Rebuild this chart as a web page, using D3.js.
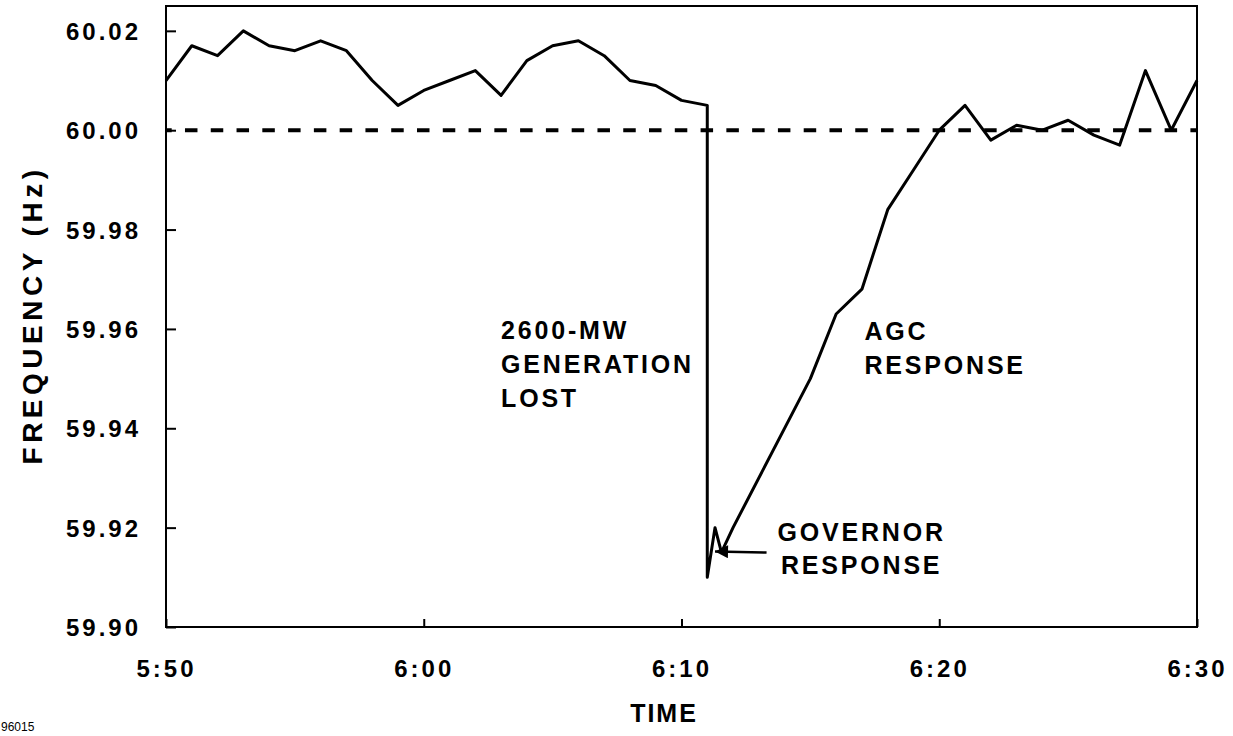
<!DOCTYPE html>
<html>
<head>
<meta charset="utf-8">
<script src="https://cdn.jsdelivr.net/npm/d3@7"></script>
<style>
  html, body { margin: 0; padding: 0; background: #fff; }
  svg { display: block; }
  text { font-family: "Liberation Sans", Arial, Helvetica, sans-serif; }
</style>
</head>
<body>
<svg id="chart" width="1233" height="736"></svg>
<script>
// ---- data (minutes after 5:50) ----
const minutes = [0,1,2,3,4,5,6,7,8,9,10,11,12,13,14,15,16,17,18,19,20,21,21,21.3,21.55,22,25,26,27,28,29,30,31,32,33,34,35,36,37,38,39,40];
const frequency = [60.010,60.017,60.015,60.020,60.017,60.016,60.018,60.016,60.010,60.005,
                   60.008,60.010,60.012,60.007,60.014,60.017,60.018,60.015,60.010,60.009,
                   60.006,60.005,59.910,59.920,59.915,59.920,59.950,59.963,59.968,59.984,
                   59.992,60.000,60.005,59.998,60.001,60.000,60.002,59.999,59.997,60.012,
                   60.000,60.010];
const nominal = 60.00;
const xTickValues = [0,10,20,30,40];
const xTickLabels = ["5:50","6:00","6:10","6:20","6:30"];
const yTickValues = [59.90,59.92,59.94,59.96,59.98,60.00,60.02];
const annotations = [
  {lines:["2600-MW","GENERATION","LOST"], t:13.0, f:59.9579, anchor:"start"},
  {lines:["AGC","RESPONSE"], t:27.1, f:59.9578, anchor:"start"},
  {lines:["GOVERNOR","RESPONSE"], t:26.99, f:59.9174, anchor:"middle"}
];
const arrow = {from:[23.3, 59.9150], to:[21.3, 59.9152]};

// ---- layout ----
const svg = d3.select("#chart");
const L = 166, R = 1197, T = 6, B = 627;
const x = d3.scaleLinear().domain([0, 40]).range([L, R]);
const y = d3.scaleLinear().domain([59.90, 60.025]).range([B, T]);

svg.append("rect").attr("width",1233).attr("height",736).attr("fill","#fff");

// y axis
const yAxis = svg.append("g").attr("transform",`translate(${L},0)`)
  .call(d3.axisLeft(y).tickValues(yTickValues).tickFormat(d3.format(".2f"))
        .tickSizeInner(-10).tickSizeOuter(0).tickPadding(25));
yAxis.select(".domain").remove();
yAxis.selectAll(".tick line").attr("stroke","#000").attr("stroke-width",2);
yAxis.selectAll(".tick text").attr("font-size",24).attr("font-weight","bold")
  .attr("letter-spacing","3px").attr("fill","#000").attr("dy","0.36em");

// x axis
const xAxis = svg.append("g").attr("transform",`translate(0,${B})`)
  .call(d3.axisBottom(x).tickValues(xTickValues).tickFormat((d,i)=>xTickLabels[i])
        .tickSizeInner(-8).tickSizeOuter(0).tickPadding(33));
xAxis.select(".domain").remove();
xAxis.selectAll(".tick line").attr("stroke","#000").attr("stroke-width",2);
xAxis.selectAll(".tick text").attr("font-size",24).attr("font-weight","bold")
  .attr("letter-spacing","3px").attr("fill","#000");

// frame
svg.append("rect").attr("x",L).attr("y",T).attr("width",R-L).attr("height",B-T)
  .attr("fill","none").attr("stroke","#000").attr("stroke-width",2);

// nominal dashed line
svg.append("line").attr("x1",x(0)).attr("x2",x(40)).attr("y1",y(nominal)).attr("y2",y(nominal))
  .attr("stroke","#000").attr("stroke-width",4)
  .attr("stroke-dasharray","12.5 13.28").attr("stroke-dashoffset",6.8);

// frequency line
const line = d3.line().x((d,i)=>x(minutes[i])).y(d=>y(d));
svg.append("path").datum(frequency).attr("d",line)
  .attr("fill","none").attr("stroke","#000").attr("stroke-width",3)
  .attr("stroke-linejoin","round");

// arrow
svg.append("defs").append("marker").attr("id","ah").attr("viewBox","0 0 10 10")
  .attr("refX",10).attr("refY",5).attr("markerWidth",16).attr("markerHeight",13)
  .attr("markerUnits","userSpaceOnUse").attr("orient","auto")
  .append("path").attr("d","M0,0 L10,5 L0,10 Z").attr("fill","#000");
svg.append("line")
  .attr("x1",x(arrow.from[0])).attr("y1",y(arrow.from[1]))
  .attr("x2",x(arrow.to[0])).attr("y2",y(arrow.to[1]))
  .attr("stroke","#000").attr("stroke-width",2.5).attr("marker-end","url(#ah)");

// annotations
annotations.forEach(a=>{
  const t = svg.append("text").attr("x",x(a.t)).attr("y",y(a.f))
    .attr("text-anchor",a.anchor).attr("font-size",25).attr("font-weight","bold")
    .attr("letter-spacing","2.8px").attr("fill","#000");
  a.lines.forEach((s,i)=>{
    t.append("tspan").attr("x",x(a.t)).attr("dy", i===0?0:33.8).text(s);
  });
});

// axis titles
svg.append("text").attr("x",664).attr("y",722).attr("text-anchor","middle")
  .attr("font-size",25).attr("font-weight","bold").attr("letter-spacing","2px").text("TIME");
svg.append("text").attr("transform","translate(42,315) rotate(-90)").attr("text-anchor","middle")
  .attr("font-size",28).attr("font-weight","bold").attr("letter-spacing","4.5px").text("FREQUENCY (Hz)");
svg.append("text").attr("x",1).attr("y",731).attr("font-size",12).text("96015");
</script>
</body>
</html>
